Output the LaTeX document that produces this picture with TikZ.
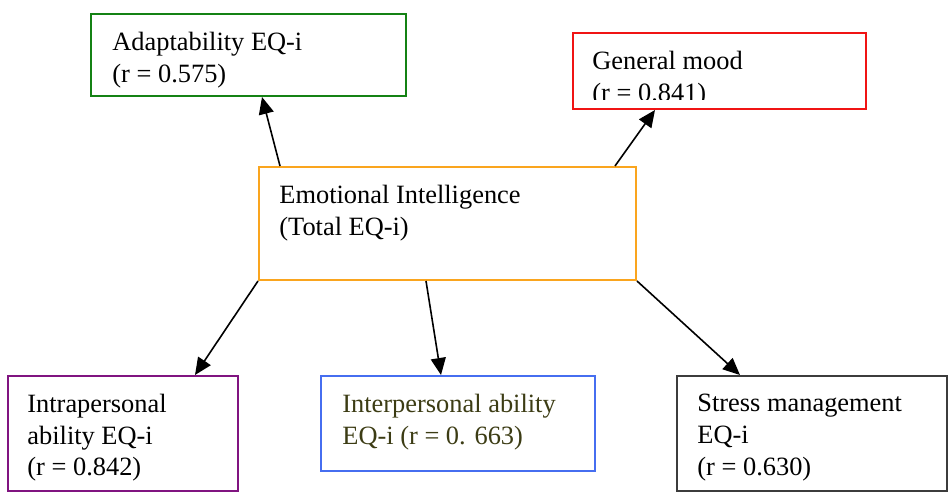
\documentclass[tikz,border=0pt]{standalone}
\usepackage{fontspec}
\setmainfont{Liberation Serif}
\usetikzlibrary{arrows.meta,positioning,calc}
\definecolor{adaptgreen}{RGB}{20,130,20}
\definecolor{moodred}{RGB}{240,20,20}
\definecolor{eiorange}{RGB}{250,165,30}
\definecolor{intrapurple}{RGB}{128,20,128}
\definecolor{interblue}{RGB}{70,110,240}
\definecolor{intertext}{RGB}{60,60,20}
\definecolor{stressgray}{RGB}{60,60,60}

\begin{document}
\begin{tikzpicture}[x=0.5pt,y=-0.5pt,
  font=\fontsize{13.2}{15.8}\selectfont,
  box/.style={draw=#1,line width=1pt,anchor=north west,inner sep=0pt},
  txt/.style={anchor=north west,inner sep=0pt,align=left},
  arr/.style={-{Triangle[length=8.5pt,width=7.5pt]},line width=0.8pt}]
  \useasboundingbox (0,0) rectangle (948,498);
  % boxes
  \node[box=adaptgreen,minimum width=157.5pt,minimum height=41pt] (adapt) at (90,13) {};
  \node[box=moodred,minimum width=146.5pt,minimum height=38pt] (mood) at (572,32) {};
  \node[box=eiorange,minimum width=188.5pt,minimum height=56.5pt] (ei) at (258,166) {};
  \node[box=intrapurple,minimum width=115pt,minimum height=57.5pt] (intra) at (7,375) {};
  \node[box=interblue,minimum width=137pt,minimum height=47.5pt] (inter) at (320,375) {};
  \node[box=stressgray,minimum width=135pt,minimum height=57.5pt] (stress) at (676,375) {};
  % texts
  \node[txt] (adapt-t) at ([shift={(22,19)}]adapt.north west) {Adaptability EQ-i\\(r = 0.575)};
  \begin{scope}
    \clip (mood.north west) rectangle ([yshift=5.5pt]mood.south east);
    \node[txt] (mood-t) at ([shift={(20,19)}]mood.north west) {General mood\\(r = 0.841)};
  \end{scope}
  \node[txt] (ei-t) at ([shift={(21,19)}]ei.north west) {Emotional Intelligence\\(Total EQ-i)};
  \node[txt] (intra-t) at ([shift={(20,19)}]intra.north west) {Intrapersonal\\ability EQ-i\\(r = 0.842)};
  \node[txt,text=intertext] (inter-t) at ([shift={(22,19)}]inter.north west) {Interpersonal ability\\EQ-i (r = 0. 663)};
  \node[txt] (stress-t) at ([shift={(21,19)}]stress.north west) {Stress management\\EQ-i\\(r = 0.630)};
  % connectors
  \draw[arr] ([xshift=11pt]ei.north west) -- ([xshift=86pt]adapt.south west);
  \draw[arr] ([xshift=-11pt]ei.north east) -- ([xshift=41.5pt]mood.south west);
  \draw[arr] (ei.south west) -- ([xshift=94pt]intra.north west);
  \draw[arr] ([xshift=84pt]ei.south west) -- ([xshift=60.5pt]inter.north west);
  \draw[arr] (ei.south east) -- ([xshift=32pt]stress.north west);
\end{tikzpicture}
\end{document}
